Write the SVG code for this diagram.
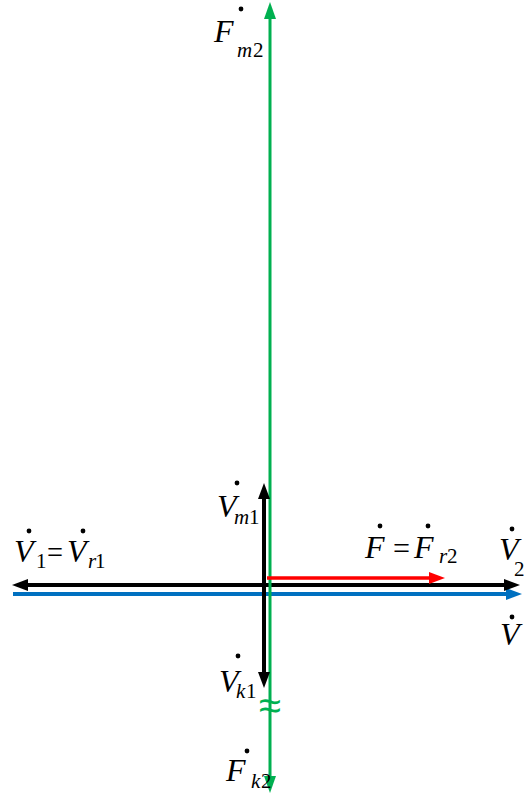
<svg xmlns="http://www.w3.org/2000/svg" width="530" height="794" viewBox="0 0 530 794">
<style>
text{font-family:"Liberation Serif","Times New Roman",Times,serif;fill:#000}
.m{font-style:italic;font-size:32px}
.s{font-size:21px}
.si{font-style:italic}
.eq{font-size:32px}
.blk{stroke:#000;stroke-width:4;fill:none}
.blu{stroke:#0070c0;stroke-width:4;fill:none}
.red{stroke:#ff0000;stroke-width:3.5;fill:none}
.grn{stroke:#00b050;stroke-width:3;fill:none}
</style>
<rect width="530" height="794" fill="#fff"/>
<g id="connectors">
<line class="blu" x1="13" y1="594" x2="508" y2="594"/>
<polygon points="522,594 506,588 506,600" fill="#0070c0"/>
<line class="blk" x1="26" y1="585" x2="506" y2="585"/>
<polygon points="12,585 28,579 28,591" fill="#000"/>
<polygon points="520,585 504,579 504,591" fill="#000"/>
<line class="grn" x1="270" y1="16" x2="270" y2="779"/>
<polygon points="270,2 264,19 276,19" fill="#00b050"/>
<polygon points="270,793 264,776 276,776" fill="#00b050"/>
<line class="blk" x1="264" y1="497" x2="264" y2="673"/>
<polygon points="264,483 258,499 270,499" fill="#000"/>
<polygon points="264,688 258,672 270,672" fill="#000"/>
<line class="red" x1="267" y1="578" x2="431" y2="578"/>
<polygon points="445,578 429,572 429,584" fill="#ff0000"/>
<text x="270" y="719" text-anchor="middle" style="font-family:'Liberation Sans',sans-serif;font-size:40px;fill:#00b050">≈</text>
</g>
<g id="Fm2">
<circle cx="241" cy="9" r="2.4"/>
<text class="m" x="214" y="42">F</text>
<text class="s" y="57"><tspan class="si" x="237">m</tspan><tspan x="253">2</tspan></text>
</g>
<g id="Vm1">
<circle cx="237" cy="483" r="2.4"/>
<text class="m" x="217" y="517">V</text>
<text class="s" y="524"><tspan class="si" x="234">m</tspan><tspan x="249">1</tspan></text>
</g>
<g id="V1Vr1">
<circle cx="29" cy="531" r="2.4"/>
<text class="m" x="14" y="562">V</text>
<text class="s" x="36" y="568">1</text>
<text class="eq" x="47" y="563" textLength="16" lengthAdjust="spacingAndGlyphs">=</text>
<circle cx="83" cy="531" r="2.4"/>
<text class="m" x="67" y="562">V</text>
<text class="s" y="568"><tspan class="si" x="88">r</tspan><tspan x="95">1</tspan></text>
</g>
<g id="FFr2">
<circle cx="380" cy="526" r="2.4"/>
<text class="m" x="365" y="558">F</text>
<text class="eq" x="393" y="559" textLength="17" lengthAdjust="spacingAndGlyphs">=</text>
<circle cx="428" cy="526" r="2.4"/>
<text class="m" x="414" y="558">F</text>
<text class="s" y="563"><tspan class="si" x="439">r</tspan><tspan x="447">2</tspan></text>
</g>
<g id="V2">
<circle cx="512" cy="529" r="2.4"/>
<text class="m" x="499" y="560">V</text>
<text class="s" x="514" y="576">2</text>
</g>
<g id="V">
<circle cx="512" cy="617" r="2.4"/>
<text class="m" x="500" y="645">V</text>
</g>
<g id="Vk1">
<circle cx="238" cy="656" r="2.4"/>
<text class="m" x="219" y="692">V</text>
<text class="s" y="698"><tspan class="si" x="236">k</tspan><tspan x="246">1</tspan></text>
</g>
<g id="Fk2">
<circle cx="247" cy="751" r="2.4"/>
<text class="m" x="226" y="781">F</text>
<text class="s" y="788"><tspan class="si" x="251">k</tspan><tspan x="261">2</tspan></text>
</g>
</svg>
